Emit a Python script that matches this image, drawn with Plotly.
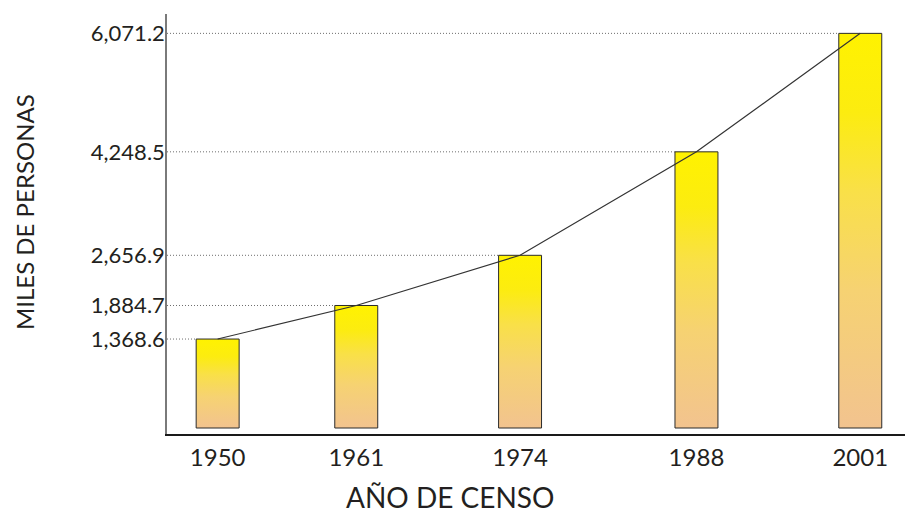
import plotly.graph_objects as go

# ---- data ----
years = [1950, 1961, 1974, 1988, 2001]
population = [1368.6, 1884.7, 2656.9, 4248.5, 6071.2]   # miles de personas
year_labels = ["1950", "1961", "1974", "1988", "2001"]
value_labels = ["1,368.6", "1,884.7", "2,656.9", "4,248.5", "6,071.2"]

BAR_W = 3.41
X_RANGE = [1945.98, 2004.55]
Y_RANGE = [-92.3, 6369]
FONT = "Lato, 'Open Sans', 'DejaVu Sans', sans-serif"
TXT = "#231F20"

grad = [[0.0, "#F2C38F"], [0.35, "#F6D272"], [0.6, "#F9E048"],
        [0.8, "#FCEC10"], [1.0, "#FFF200"]]

fig = go.Figure()

# bars as filled rectangles with vertical gradient
for yr, v in zip(years, population):
    x0, x1 = yr - BAR_W / 2, yr + BAR_W / 2
    fig.add_trace(go.Scatter(
        x=[x0, x0, x1, x1, x0], y=[0, v, v, 0, 0],
        mode="lines", fill="toself",
        fillgradient=dict(type="vertical", colorscale=grad),
        line=dict(color="#2b2b2b", width=1),
        hoverinfo="skip", showlegend=False))

# trend line
fig.add_trace(go.Scatter(x=years, y=population, mode="lines",
                         line=dict(color="#333333", width=1.2),
                         showlegend=False, hoverinfo="skip"))

# dotted reference lines from axis to bar left edge
for yr, v in zip(years, population):
    fig.add_shape(type="line", xref="x", yref="y",
                  x0=X_RANGE[0], x1=yr - BAR_W / 2, y0=v, y1=v,
                  line=dict(color="#6e6e6e", width=1, dash="1px,2px"), layer="below")

fig.update_layout(
    width=907, height=514,
    margin=dict(l=167, r=2, t=14, b=80),
    paper_bgcolor="white", plot_bgcolor="white",
    font=dict(family=FONT, color=TXT),
    xaxis=dict(range=X_RANGE, tickvals=years, ticktext=year_labels,
               showgrid=False, zeroline=False, ticks="",
               showline=True, linecolor="#1a1a1a", linewidth=1.5,
               tickfont=dict(size=24, color=TXT), ticklabelstandoff=1),
    yaxis=dict(range=Y_RANGE, tickvals=population, ticktext=value_labels,
               showgrid=False, zeroline=False, ticks="",
               showline=True, linecolor="#7a7a7a", linewidth=1.5,
               tickfont=dict(size=22, color=TXT), ticklabelstandoff=-4),
    annotations=[
        dict(text="MILES DE PERSONAS", xref="paper", yref="paper",
             x=-0.1924, y=0.5286, showarrow=False, textangle=-90,
             font=dict(size=24, color=TXT), xanchor="center", yanchor="middle"),
        dict(text="AÑO DE CENSO", xref="paper", yref="paper",
             x=0.3835, y=-0.15, showarrow=False,
             font=dict(size=28, color=TXT), xanchor="center", yanchor="middle"),
    ],
)

fig.write_html(
    "out.html",
    config={"displayModeBar": False},
    post_script="document.body.style.margin='0';document.body.style.overflow='hidden';",
)
